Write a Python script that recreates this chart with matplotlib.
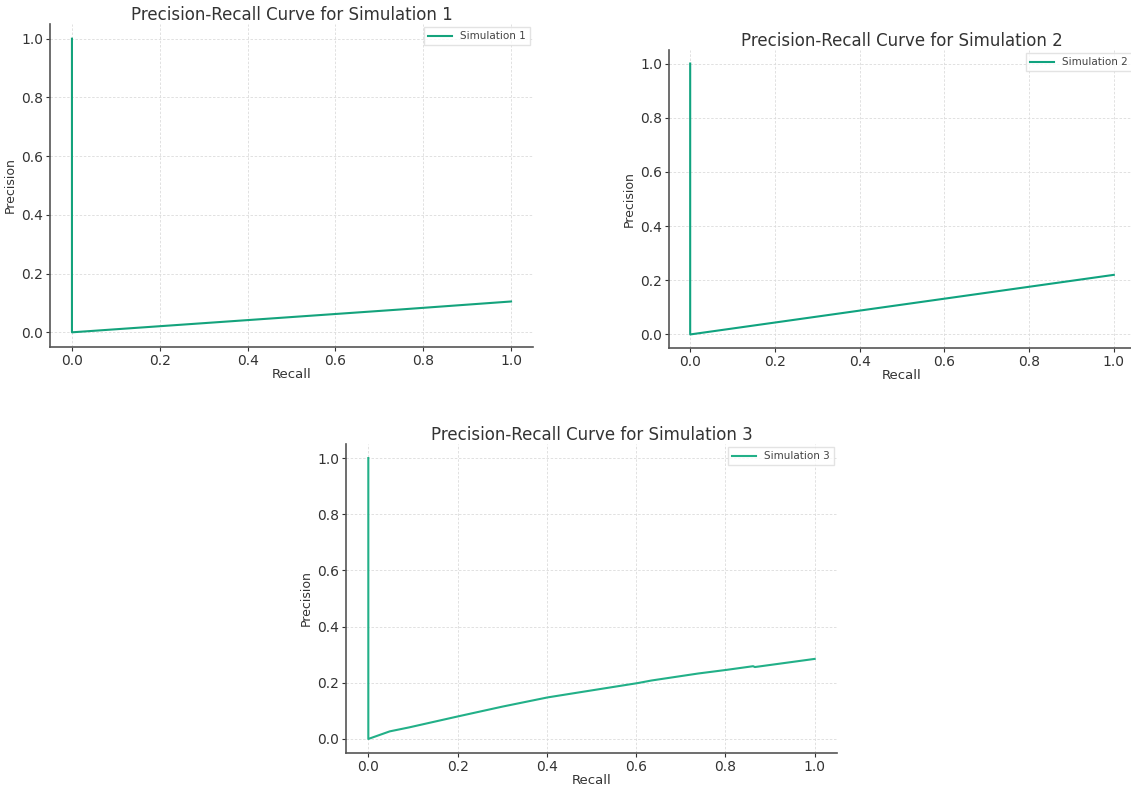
import numpy as np
import matplotlib
matplotlib.use("Agg")
import matplotlib.pyplot as plt

# Data (recall, precision)
recall_1 = [0.0, 0.0, 0.25, 0.5, 0.75, 1.0]
precision_1 = [1.0, 0.0, 0.026, 0.052, 0.078, 0.105]

recall_2 = [0.0, 0.0, 0.25, 0.5, 0.75, 1.0]
precision_2 = [1.0, 0.0, 0.055, 0.11, 0.165, 0.22]

recall_3 = [0.0, 0.0, 0.048, 0.091, 0.2, 0.3, 0.402, 0.477, 0.604, 0.634,
            0.739, 0.803, 0.862, 0.866, 1.0]
precision_3 = [1.0, 0.0, 0.027, 0.041, 0.080, 0.115, 0.148, 0.167, 0.199, 0.208,
               0.233, 0.246, 0.259, 0.256, 0.285]

labels = ["Simulation 1", "Simulation 2", "Simulation 3"]
colors = ["#14a37c", "#10a37f", "#22b088"]

W, H = 1131, 785
fig = plt.figure(figsize=(W / 100, H / 100), dpi=100)

# axes boxes in pixels: left, top, right, bottom
boxes = [(50, 24, 533, 347), (669, 50, 1135, 348), (346, 444, 837, 753)]
series = [(recall_1, precision_1), (recall_2, precision_2), (recall_3, precision_3)]

for i, (box, (r, p)) in enumerate(zip(boxes, series)):
    l, t, rr, b = box
    ax = fig.add_axes([l / W, 1 - b / H, (rr - l) / W, (b - t) / H])
    ax.plot(r, p, color=colors[i], lw=1.5, label=labels[i])
    ax.set_xlim(-0.05, 1.05)
    ax.set_ylim(-0.05, 1.05)
    ax.set_xticks(np.arange(0, 1.01, 0.2))
    ax.set_yticks(np.arange(0, 1.01, 0.2))
    ax.grid(True, linestyle=(0, (3, 2)), color="#dcdcdc", lw=0.6)
    ax.set_axisbelow(True)
    for s in ["top", "right"]:
        ax.spines[s].set_visible(False)
    for s in ["left", "bottom"]:
        ax.spines[s].set_color("#555555")
        ax.spines[s].set_linewidth(1.2)
    ax.tick_params(colors="#333333", labelsize=10, length=3, width=0.8, pad=2)
    ax.set_title(f"Precision-Recall Curve for Simulation {i + 1}", fontsize=12,
                 color="#333333", pad=3)
    ax.set_xlabel("Recall", fontsize=9.5, color="#333333", labelpad=0)
    ax.set_ylabel("Precision", fontsize=9, color="#333333", labelpad=3)
    leg = ax.legend(loc="upper right", fontsize=7.5, frameon=True, fancybox=False,
                    borderaxespad=0.3, handlelength=2.3)
    leg.get_frame().set_edgecolor("#dddddd")
    for txt in leg.get_texts():
        txt.set_color("#444444")

fig.savefig("out.png", dpi=100)
